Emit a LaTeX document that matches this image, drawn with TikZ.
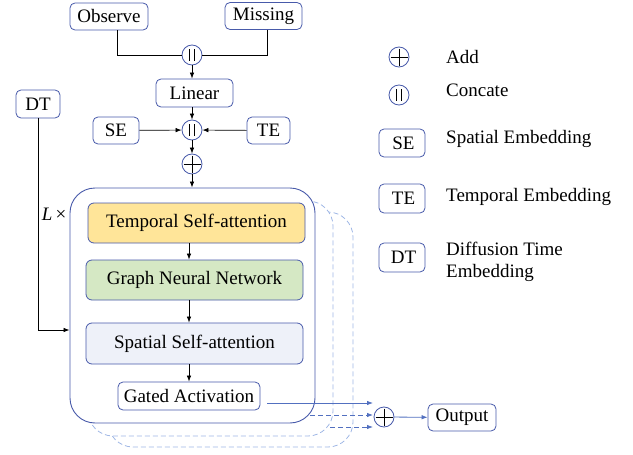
\documentclass[tikz,border=0pt]{standalone}
\usepackage{fontspec}
\setmainfont{Liberation Serif}
\usetikzlibrary{arrows.meta}
\definecolor{bluebd}{RGB}{72,90,170}
\definecolor{bluearr}{RGB}{82,112,192}
\definecolor{dashc}{RGB}{160,184,230}
\definecolor{tsafill}{RGB}{255,229,153}
\definecolor{gnnfill}{RGB}{213,232,196}
\definecolor{ssafill}{RGB}{238,241,249}
\tikzset{
  every node/.style={font=\rmfamily\fontsize{19}{22}\selectfont},
  box/.style={draw=bluebd, line width=0.8pt, rounded corners=5pt, fill=white, inner sep=0pt, align=center},
  layer/.style={box, rounded corners=6pt},
  arr/.style={-{Latex[length=6pt,width=4.5pt]}, line width=0.7pt, black},
  bluearrow/.style={-{Latex[length=6pt,width=4.5pt]}, line width=0.8pt, bluearr},
  dasharrow/.style={bluearrow, dash pattern=on 5pt off 3pt},
  shadowbox/.style={draw=dashc, line width=0.8pt, dash pattern=on 5pt off 3pt, rounded corners=25pt, fill=white},
  addop/.style={circle, draw=bluebd, line width=0.8pt, minimum size=20pt, inner sep=0pt, fill=white,
    path picture={\draw[black, line width=1pt]
      ([yshift=-1.5pt]path picture bounding box.north) -- ([yshift=1.5pt]path picture bounding box.south)
      ([xshift=1.5pt]path picture bounding box.west) -- ([xshift=-1.5pt]path picture bounding box.east);}},
  catop/.style={circle, draw=bluebd, line width=0.8pt, minimum size=20pt, inner sep=0pt, fill=white,
    path picture={\draw[black, line width=1.1pt]
      ([xshift=-2.3pt,yshift=6pt]path picture bounding box.center) -- ++(0,-12pt)
      ([xshift=2.3pt,yshift=6pt]path picture bounding box.center) -- ++(0,-12pt);}},
  legtext/.style={anchor=west, align=left, inner sep=0pt}
}
\begin{document}
\begin{tikzpicture}[x=1pt,y=-1pt]
\useasboundingbox (0,0) rectangle (633,455);

% top inputs
\node[box, minimum width=78pt, minimum height=27pt] (obs) at (109,16.5) {Observe};
\node[box, minimum width=77pt, minimum height=27pt] (mis) at (263.5,16) {Missing};
\node[catop] (cat1) at (192,55) {};
\node[box, minimum width=77pt, minimum height=28pt] (lin) at (194.5,93) {Linear};
\node[catop] (cat2) at (192,130) {};
\node[box, minimum width=46pt, minimum height=27pt] (se) at (116,130.5) {SE};
\node[box, minimum width=43pt, minimum height=27pt] (te) at (268.5,130.5) {TE};
\node[box, minimum width=44pt, minimum height=28pt] (dt) at (38,104) {DT};
\node[addop] (add1) at (192,164) {};

\draw[line width=0.7pt] (obs.south -| 117,0) |- (cat1.west);
\draw[line width=0.7pt] (mis.south -| 267,0) |- (cat1.east);
\draw[arr] (cat1) -- (cat1 |- lin.north);
\draw[arr] (lin.south -| cat2) -- (cat2);
\draw[arr] (se) -- (cat2);
\draw[arr] (te) -- (cat2);
\draw[arr] (cat2) -- (add1);

% shadow copies
\coordinate (s3) at (298,427);
\coordinate (s2) at (278,415);
\coordinate (e1) at (373,403);
\coordinate (e2) at (373,415);
\coordinate (e3) at (373,427);
\draw[shadowbox] (108,212) rectangle (353,447);
\draw[dasharrow] (s3) -- (e3);
\draw[shadowbox] (88,201) rectangle (333,436);
\draw[dasharrow] (s2) -- (e2);

% main block
\node[draw=bluebd, line width=0.9pt, rounded corners=25pt, fill=white, minimum width=245pt, minimum height=235pt, inner sep=0pt] (blk) at (192.5,305.5) {};
\draw[arr] (add1) -- (add1 |- blk.north);

\node[layer, fill=tsafill, minimum width=217pt, minimum height=40pt] (tsa) at (196.5,223) {Temporal Self-attention};
\node[layer, fill=gnnfill, minimum width=217pt, minimum height=40pt] (gnn) at (194.5,280) {Graph Neural Network};
\node[layer, fill=ssafill, minimum width=217pt, minimum height=41pt] (ssa) at (194.5,343.5) {Spatial Self-attention};
\node[box, minimum width=142pt, minimum height=28pt] (ga) at (189,396) {Gated Activation};

\draw[arr] (tsa.south -| ga) -- (gnn.north -| ga);
\draw[arr] (gnn.south -| ga) -- (ssa.north -| ga);
\draw[arr] (ssa.south -| ga) -- (ga.north);

\node[inner sep=0pt] (lx) at (54,214) {\itshape L\upshape\,×};

\coordinate (dtc) at (38,330);
\draw[arr] (dt.south) -- (dtc) -- (dtc -| blk.west);

% output
\node[addop] (add2) at (384,417) {};
\node[box, minimum width=68pt, minimum height=27pt] (out) at (462,417.5) {Output};
\coordinate (gaout) at (267,403);
\draw[bluearrow] (gaout) -- (e1);
\draw[bluearrow] (add2) -- (out);

% legend
\node[addop] (addL) at (399,57) {};
\node[catop] (catL) at (399,95) {};
\node[box, minimum width=46pt, minimum height=28pt] (seL) at (402,143) {\hspace*{3pt}SE};
\node[box, minimum width=46pt, minimum height=29pt] (teL) at (402,198.5) {\hspace*{3pt}TE};
\node[box, minimum width=46pt, minimum height=29pt] (dtL) at (402,257.5) {\hspace*{3pt}DT};
\node[legtext] (addT) at (446,57) {Add};
\node[legtext] (catT) at (446,90) {Concate};
\node[legtext] (seT) at (446,139) {Spatial Embedding};
\node[legtext] (teT) at (446,197) {Temporal Embedding};
\node[legtext] (dtT) at (446,262) {Diffusion Time\\Embedding};
\end{tikzpicture}
\end{document}
